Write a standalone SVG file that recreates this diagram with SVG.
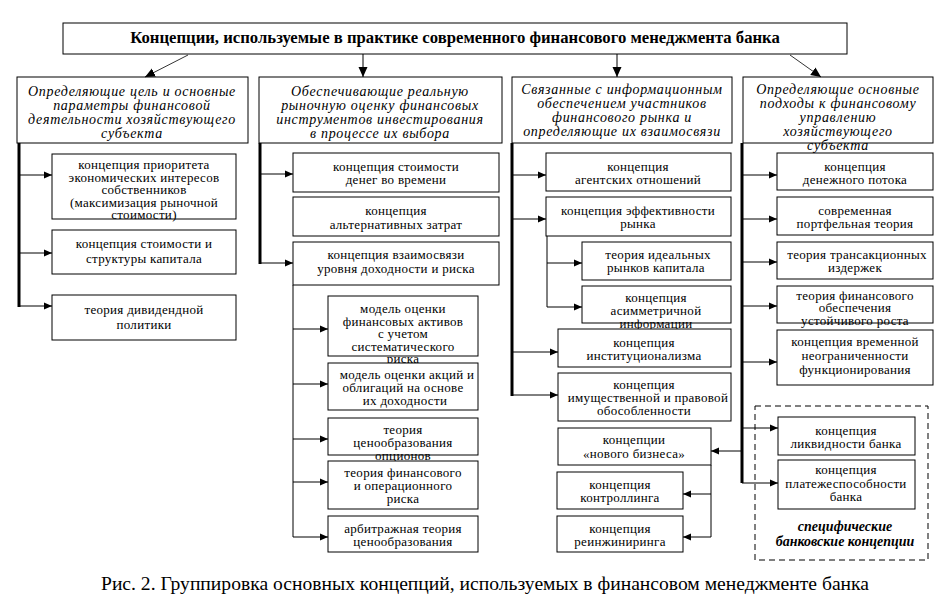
<svg xmlns="http://www.w3.org/2000/svg" width="939" height="604" viewBox="0 0 939 604">
<style>
rect{fill:#fff;stroke:#000;stroke-width:1}
text{font-family:"Liberation Serif","Times New Roman",serif;fill:#000;text-anchor:middle}
.t{font-size:13px;letter-spacing:0.3px}
.c{font-size:14px;font-style:italic;letter-spacing:0.7px}
.h{font-size:16.7px;font-weight:bold}
.s{font-size:14px;font-weight:bold;font-style:italic}
.cap{font-size:19.6px}
.thk{stroke:#000;stroke-width:3;fill:none}
.ln{stroke:#000;stroke-width:1;fill:none}
.ar{stroke:#000;stroke-width:1;fill:none;marker-end:url(#a)}
.dash{fill:none;stroke:#000;stroke-width:1;stroke-dasharray:6,4}
</style>
<defs>
<marker id="a" markerUnits="userSpaceOnUse" markerWidth="8" markerHeight="8" refX="8" refY="4" orient="auto"><path d="M0,0.5 L8,4 L0,7.5 z" fill="#000"/></marker>
<marker id="b" markerUnits="userSpaceOnUse" markerWidth="10" markerHeight="10" refX="10" refY="5" orient="auto"><path d="M0,0.5 L10,5 L0,9.5 z" fill="#000"/></marker>
</defs>
<rect width="939" height="604" style="fill:#fff;stroke:none"/>

<g id="title"><rect x="63" y="23" width="784" height="31"/><text class="h" x="455" y="43">Концепции, используемые в практике современного финансового менеджмента банка</text></g>

<g id="cat1"><rect x="17" y="77" width="231" height="66"/>
<text class="c" x="132" y="96">Определяющие цель и основные</text><text class="c" x="132" y="110">параметры финансовой</text><text class="c" x="132" y="124">деятельности хозяйствующего</text><text class="c" x="132" y="138">субъекта</text></g>
<g id="cat2"><rect x="259" y="77" width="243" height="66"/>
<text class="c" x="380" y="96">Обеспечивающие реальную</text><text class="c" x="380" y="110">рыночную оценку финансовых</text><text class="c" x="380" y="124">инструментов инвестирования</text><text class="c" x="380" y="138">в процессе их выбора</text></g>
<g id="cat3"><rect x="512" y="77" width="220" height="66"/>
<text class="c" x="622" y="94">Связанные с информационным</text><text class="c" x="622" y="108">обеспечением участников</text><text class="c" x="622" y="122">финансового рынка и</text><text class="c" x="622" y="136">определяющие их взаимосвязи</text></g>
<g id="cat4"><rect x="743" y="77" width="190" height="66"/>
<text class="c" x="838" y="94">Определяющие основные</text><text class="c" x="838" y="108">подходы к финансовому</text><text class="c" x="838" y="122">управлению</text><text class="c" x="838" y="136">хозяйствующего</text><text class="c" x="838" y="150">субъекта</text></g>

<g id="n1a"><rect x="52" y="154" width="184" height="65"/><text class="t" x="144" y="169">концепция приоритета</text><text class="t" x="144" y="181.5">экономических интересов</text><text class="t" x="144" y="194">собственников</text><text class="t" x="144" y="206.5">(максимизация рыночной</text><text class="t" x="144" y="219">стоимости)</text></g>
<g id="n1b"><rect x="52" y="230" width="184" height="44"/><text class="t" x="144" y="248">концепция стоимости и</text><text class="t" x="144" y="263">структуры капитала</text></g>
<g id="n1c"><rect x="52" y="295" width="184" height="45"/><text class="t" x="144" y="314">теория дивидендной</text><text class="t" x="144" y="329">политики</text></g>

<g id="n2a"><rect x="293" y="153" width="206" height="39"/><text class="t" x="396" y="170.5">концепция стоимости</text><text class="t" x="396" y="184">денег во времени</text></g>
<g id="n2b"><rect x="293" y="197" width="206" height="39"/><text class="t" x="396" y="215">концепция</text><text class="t" x="396" y="228.5">альтернативных затрат</text></g>
<g id="n2c"><rect x="293" y="242" width="206" height="43"/><text class="t" x="396" y="259">концепция взаимосвязи</text><text class="t" x="396" y="272.5">уровня доходности и риска</text></g>
<g id="n2d"><rect x="328" y="296" width="150" height="60"/><text class="t" x="403" y="313">модель оценки</text><text class="t" x="403" y="325.5">финансовых активов</text><text class="t" x="403" y="338">с учетом</text><text class="t" x="403" y="350.5">систематического</text><text class="t" x="403" y="363">риска</text></g>
<g id="n2e"><rect x="328" y="363" width="150" height="47"/><text class="t" x="407" y="378.5">модель оценки акций и</text><text class="t" x="403" y="391.5">облигаций на основе</text><text class="t" x="405" y="404.5">их доходности</text></g>
<g id="n2f"><rect x="328" y="418" width="150" height="37"/><text class="t" x="403" y="433.5">теория</text><text class="t" x="403" y="446.5">ценообразования</text><text class="t" x="403" y="459.5">опционов</text></g>
<g id="n2g"><rect x="328" y="461" width="150" height="48"/><text class="t" x="403" y="477">теория финансового</text><text class="t" x="403" y="490">и операционного</text><text class="t" x="403" y="503">риска</text></g>
<g id="n2h"><rect x="328" y="516" width="150" height="36"/><text class="t" x="403" y="532.5">арбитражная теория</text><text class="t" x="403" y="546">ценообразования</text></g>

<g id="n3a"><rect x="546" y="153" width="185" height="38"/><text class="t" x="638" y="170.5">концепция</text><text class="t" x="638" y="184">агентских отношений</text></g>
<g id="n3b"><rect x="546" y="197" width="185" height="39"/><text class="t" x="638" y="215">концепция эффективности</text><text class="t" x="638" y="228">рынка</text></g>
<g id="n3c"><rect x="582" y="242" width="149" height="38"/><text class="t" x="658" y="258.5">теория идеальных</text><text class="t" x="656" y="271.5">рынков капитала</text></g>
<g id="n3d"><rect x="582" y="286" width="149" height="37"/><text class="t" x="656" y="301.5">концепция</text><text class="t" x="656" y="314.5">асимметричной</text><text class="t" x="656" y="327.5">информации</text></g>
<g id="n3e"><rect x="558" y="329" width="173" height="38"/><text class="t" x="644" y="346.5">концепция</text><text class="t" x="644" y="360">институционализма</text></g>
<g id="n3f"><rect x="558" y="373" width="173" height="48"/><text class="t" x="644" y="389">концепция</text><text class="t" x="648" y="402">имущественной и правовой</text><text class="t" x="644" y="415">обособленности</text></g>
<g id="n3g"><rect x="558" y="428" width="153" height="37"/><text class="t" x="634" y="444">концепции</text><text class="t" x="634" y="458">«нового бизнеса»</text></g>
<g id="n3h"><rect x="557" y="472" width="126" height="37"/><text class="t" x="620" y="488.5">концепция</text><text class="t" x="620" y="501.5">контроллинга</text></g>
<g id="n3i"><rect x="557" y="516" width="126" height="36"/><text class="t" x="620" y="532.5">концепция</text><text class="t" x="620" y="546">реинжиниринга</text></g>

<g id="n4a"><rect x="777" y="153" width="156" height="37"/><text class="t" x="855" y="170.5">концепция</text><text class="t" x="855" y="184">денежного потока</text></g>
<g id="n4b"><rect x="777" y="197" width="156" height="38"/><text class="t" x="855" y="215">современная</text><text class="t" x="855" y="228">портфельная теория</text></g>
<g id="n4c"><rect x="777" y="242" width="156" height="37"/><text class="t" x="857" y="258.5">теория трансакционных</text><text class="t" x="855" y="272">издержек</text></g>
<g id="n4d"><rect x="777" y="286" width="156" height="37"/><text class="t" x="855" y="300">теория финансового</text><text class="t" x="855" y="312">обеспечения</text><text class="t" x="855" y="324.5">устойчивого роста</text></g>
<g id="n4e"><rect x="777" y="330" width="156" height="55"/><text class="t" x="855" y="346">концепция временной</text><text class="t" x="855" y="360">неограниченности</text><text class="t" x="855" y="374">функционирования</text></g>
<g id="bank"><rect x="755" y="406" width="173" height="154" class="dash" style="fill:none"/>
<g id="n4f"><rect x="778" y="417" width="137" height="38"/><text class="t" x="846" y="434.5">концепция</text><text class="t" x="846" y="448">ликвидности банка</text></g>
<g id="n4g"><rect x="778" y="460" width="137" height="49"/><text class="t" x="846" y="474">концепция</text><text class="t" x="846" y="487.5">платежеспособности</text><text class="t" x="846" y="501">банка</text></g>
<text class="s" x="845" y="531">специфические</text><text class="s" x="845" y="546">банковские концепции</text></g>

<g id="connectors">
<line x1="188" y1="55" x2="145" y2="77" class="ln" style="stroke-width:0.8" marker-end="url(#b)"/>
<line x1="363" y1="54" x2="363" y2="77" class="ln" marker-end="url(#b)"/>
<line x1="617" y1="54" x2="617" y2="77" class="ln" marker-end="url(#b)"/>
<line x1="790" y1="55" x2="821" y2="77" class="ln" style="stroke-width:0.8" marker-end="url(#b)"/>

<line x1="19" y1="143" x2="19" y2="307" class="thk"/>
<path d="M19,175 H52" class="ar"/><path d="M19,253 H52" class="ar"/><path d="M19,306 H52" class="ar"/>

<line x1="260" y1="143" x2="260" y2="264" class="thk"/>
<path d="M260,174 H293" class="ar"/><path d="M260,263 H293" class="ar"/>
<line x1="293" y1="285" x2="293" y2="537" class="ln"/>
<path d="M293,329 H328" class="ar"/><path d="M293,384 H328" class="ar"/><path d="M293,439 H328" class="ar"/><path d="M293,482 H328" class="ar"/><path d="M293,537 H328" class="ar"/>

<line x1="512" y1="143" x2="512" y2="396" class="thk"/>
<path d="M512,175 H546" class="ar"/><path d="M512,219 H546" class="ar"/><path d="M512,352 H558" class="ar"/><path d="M512,395 H558" class="ar"/>
<line x1="547" y1="236" x2="547" y2="307" class="ln"/>
<path d="M547,263 H582" class="ar"/><path d="M547,307 H582" class="ar"/>

<line x1="742" y1="143" x2="742" y2="483" class="thk"/>
<path d="M742,175 H777" class="ar"/><path d="M742,219 H777" class="ar"/><path d="M742,262 H777" class="ar"/><path d="M742,306 H777" class="ar"/><path d="M742,362 H777" class="ar"/><path d="M742,428 H778" class="ar"/><path d="M742,483 H778" class="ar"/>
<path d="M742,451 H711" class="ar"/>
<line x1="711" y1="465" x2="711" y2="537" class="ln"/>
<path d="M711,494 H683" class="ar"/><path d="M711,537 H683" class="ar"/>
</g>

<text class="cap" x="485" y="590">Рис. 2. Группировка основных концепций, используемых в финансовом менеджменте банка</text>
</svg>
